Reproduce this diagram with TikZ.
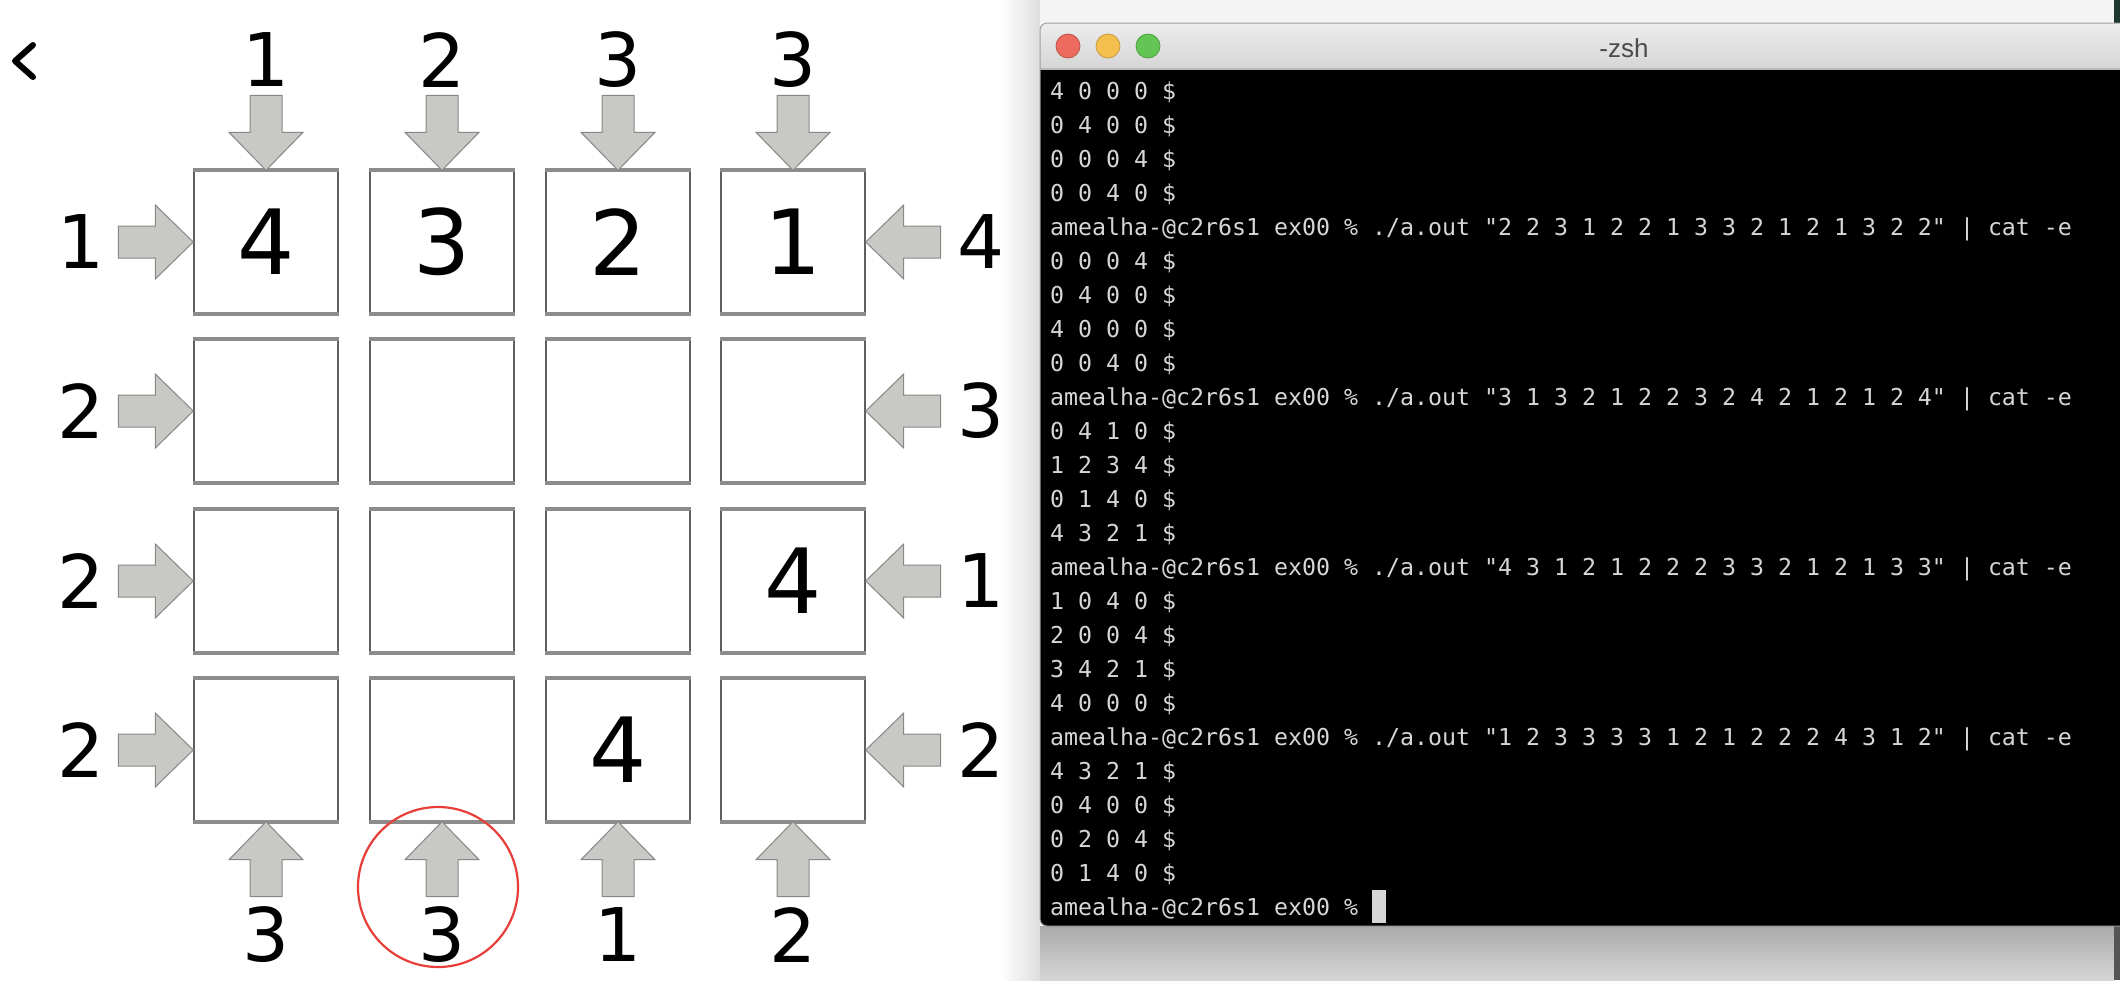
\documentclass[tikz,border=0pt]{standalone}
\usepackage{fontspec}
\setmonofont{DejaVu Sans Mono}
\newfontfamily\cluefont{DejaVu Sans}
\newfontfamily\barfont{Liberation Sans}

\definecolor{boxline}{RGB}{95,95,95}
\definecolor{rimgray}{RGB}{140,140,140}
\definecolor{arrowfill}{RGB}{200,200,196}
\definecolor{arrowline}{RGB}{135,135,135}
\definecolor{ringred}{RGB}{232,62,58}
\definecolor{sideshade}{RGB}{222,222,222}
\definecolor{desk}{RGB}{244,244,244}
\definecolor{shadetop}{RGB}{170,170,170}
\definecolor{shadebot}{RGB}{214,214,214}
\definecolor{deskgreen}{RGB}{28,56,48}
\definecolor{deskgray}{RGB}{85,85,85}
\definecolor{bartop}{RGB}{236,236,236}
\definecolor{barbot}{RGB}{214,214,214}
\definecolor{barline}{RGB}{185,185,185}
\definecolor{winline}{RGB}{160,160,160}
\definecolor{titlegray}{RGB}{75,75,75}
\definecolor{termtext}{RGB}{214,214,214}
\definecolor{closered}{RGB}{237,106,94}
\definecolor{minyellow}{RGB}{245,191,79}
\definecolor{zoomgreen}{RGB}{98,197,84}

\tikzset{
  cell/.style={draw=boxline, line width=1.4pt, fill=white, inner sep=0pt,
    minimum width=144pt, minimum height=142pt,
    font=\cluefont\fontsize{90}{90}\selectfont},
  rim/.style={draw=rimgray, line width=4pt},
  hint/.style={fill=arrowfill, draw=arrowline, line width=1pt},
  clue/.style={inner sep=0pt, font=\cluefont\fontsize{74}{74}\selectfont},
  ring/.style={circle, draw=ringred, line width=2.2pt, minimum size=160pt},
  light/.style={circle, inner sep=0pt, minimum size=24pt, line width=0.8pt},
  bartitle/.style={inner sep=0pt, text=titlegray, font=\barfont\fontsize{26}{26}\selectfont},
  term/.style={inner sep=0pt, anchor=base west, text=termtext,
    font=\ttfamily\fontsize{23.25}{23.25}\selectfont},
}

\begin{document}
\begin{tikzpicture}[x=1pt, y=-1pt]
  \useasboundingbox (0,0) rectangle (2120,980);
  \fill[white] (0,0) rectangle (2120,980);

  % shadow round the terminal window
  \shade[left color=white, right color=sideshade] (1000,0) rectangle (1040,980);
  \fill[desk] (1040,0) rectangle (2114,23);
  \shade[top color=shadetop, bottom color=shadebot] (1040,926) rectangle (2114,980);
  \fill[deskgreen] (2114,0) rectangle (2120,23);
  \fill[deskgray] (2114,926) rectangle (2120,980);

  % back button
  \draw[line width=6pt, line cap=round, line join=round] (33,45) -- (15,61) -- (33,77);

  % the 4x4 board
  \node[cell] (c11) at (266,242) {4};
  \node[cell] (c12) at (442,242) {3};
  \node[cell] (c13) at (618,242) {2};
  \node[cell] (c14) at (793,242) {1};
  \node[cell] (c21) at (266,411) {};
  \node[cell] (c22) at (442,411) {};
  \node[cell] (c23) at (618,411) {};
  \node[cell] (c24) at (793,411) {};
  \node[cell] (c31) at (266,581) {};
  \node[cell] (c32) at (442,581) {};
  \node[cell] (c33) at (618,581) {};
  \node[cell] (c34) at (793,581) {4};
  \node[cell] (c41) at (266,750) {};
  \node[cell] (c42) at (442,750) {};
  \node[cell] (c43) at (618,750) {4};
  \node[cell] (c44) at (793,750) {};

  \foreach \i in {1,...,4} {
    \foreach \j in {1,...,4} {
      \draw[rim] (c\i\j.north west) -- (c\i\j.north east);
      \draw[rim] (c\i\j.south west) -- (c\i\j.south east);
    }
  }

  % arrows
  \foreach \j in {1,...,4} {
    \draw[hint] (c1\j.north) -- ++(-37,-38) -- ++(21,0) -- ++(0,-37) -- ++(32,0) -- ++(0,37) -- ++(21,0) -- cycle;
    \draw[hint] (c4\j.south) -- ++(-37,38) -- ++(21,0) -- ++(0,37) -- ++(32,0) -- ++(0,-37) -- ++(21,0) -- cycle;
  }
  \foreach \i in {1,...,4} {
    \draw[hint] (c\i1.west) -- ++(-38,-37) -- ++(0,21) -- ++(-37,0) -- ++(0,32) -- ++(37,0) -- ++(0,21) -- cycle;
    \draw[hint] (c\i4.east) -- ++(38,-37) -- ++(0,21) -- ++(37,0) -- ++(0,32) -- ++(-37,0) -- ++(0,21) -- cycle;
  }

  % clues
  \foreach \v/\x [count=\j] in {1/266, 2/442, 3/618, 3/793}
    \node[clue] (top\j) at (\x,60) {\v};
  \foreach \v/\x [count=\j] in {3/266, 3/442, 1/618, 2/793}
    \node[clue] (bot\j) at (\x,935) {\v};
  \foreach \v/\y [count=\i] in {1/242, 2/411, 2/581, 2/750}
    \node[clue] (left\i) at (81,\y) {\v};
  \foreach \v/\y [count=\i] in {4/242, 3/411, 1/581, 2/750}
    \node[clue] (right\i) at (981,\y) {\v};

  \node[ring] (mark) at (438,887) {};

  % terminal window
  \fill[black, rounded corners=7pt] (1040,23) rectangle (2150,926);
  \shade[top color=bartop, bottom color=barbot] (1040,69) [rounded corners=7pt] -- (1040,23) -- (2150,23) [sharp corners] -- (2150,69) -- cycle;
  \draw[barline, line width=1.5pt] (1040,69) -- (2120,69);
  \draw[winline, line width=1pt, rounded corners=7pt] (1040,23) rectangle (2150,926);

  \node[light, fill=closered, draw=closered!80!black] (close) at (1068,46) {};
  \node[light, fill=minyellow, draw=minyellow!80!black] (minimize) at (1108,46) {};
  \node[light, fill=zoomgreen, draw=zoomgreen!80!black] (enlarge) at (1148,46) {};
  \node[bartitle] (title) at (1624,48) {-zsh};

  \foreach \t [count=\n] in {
    4 0 0 0 \$, 0 4 0 0 \$, 0 0 0 4 \$, 0 0 4 0 \$,
    amealha-@c2r6s1 ex00 \% ./a.out "2 2 3 1 2 2 1 3 3 2 1 2 1 3 2 2" | cat -e,
    0 0 0 4 \$, 0 4 0 0 \$, 4 0 0 0 \$, 0 0 4 0 \$,
    amealha-@c2r6s1 ex00 \% ./a.out "3 1 3 2 1 2 2 3 2 4 2 1 2 1 2 4" | cat -e,
    0 4 1 0 \$, 1 2 3 4 \$, 0 1 4 0 \$, 4 3 2 1 \$,
    amealha-@c2r6s1 ex00 \% ./a.out "4 3 1 2 1 2 2 2 3 3 2 1 2 1 3 3" | cat -e,
    1 0 4 0 \$, 2 0 0 4 \$, 3 4 2 1 \$, 4 0 0 0 \$,
    amealha-@c2r6s1 ex00 \% ./a.out "1 2 3 3 3 3 1 2 1 2 2 2 4 3 1 2" | cat -e,
    4 3 2 1 \$, 0 4 0 0 \$, 0 2 0 4 \$, 0 1 4 0 \$,
    amealha-@c2r6s1 ex00 \%}
    \node[term] (line\n) at (1050,{99+34*(\n-1)}) {\t};

  \fill[termtext] (1372,890) rectangle (1386,923);
\end{tikzpicture}
\end{document}
